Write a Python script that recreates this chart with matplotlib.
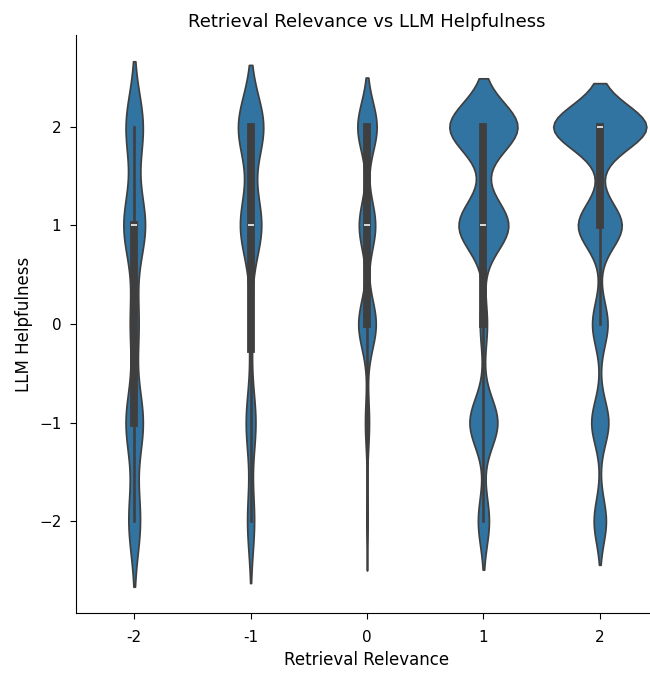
import numpy as np
import pandas as pd
import matplotlib
matplotlib.use("Agg")
import matplotlib.pyplot as plt
import seaborn as sns

# Helpfulness score levels and, for each retrieval-relevance level,
# how many responses received each helpfulness score.
helpfulness_levels = [-2, -1, 0, 1, 2]
relevance_levels = [-2, -1, 0, 1, 2]

counts_rel_m2 = [205, 305, 151, 382, 304]
counts_rel_m1 = [165, 229, 78, 504, 600]
counts_rel_0 = [26, 82, 360, 336, 396]
counts_rel_p1 = [285, 722, 185, 1287, 1761]
counts_rel_p2 = [390, 546, 494, 1398, 2972]

all_counts = [counts_rel_m2, counts_rel_m1, counts_rel_0, counts_rel_p1, counts_rel_p2]

rel_col, help_col = [], []
for rel, cnts in zip(relevance_levels, all_counts):
    rel_col.extend([rel] * int(np.sum(cnts)))
    help_col.extend(np.repeat(helpfulness_levels, cnts).tolist())

df = pd.DataFrame({"Retrieval Relevance": rel_col, "LLM Helpfulness": help_col})

plt.rcParams.update({
    "xtick.labelsize": 11,
    "ytick.labelsize": 11,
    "axes.labelsize": 12,
    "axes.titlesize": 13,
    "xtick.major.size": 4.5,
    "ytick.major.size": 4.5,
    "xtick.major.pad": 8,
    "ytick.major.pad": 6,
})

fig = plt.figure(figsize=(6.5, 6.73), dpi=100)
ax = fig.add_axes([76 / 650, (673 - 613) / 673, 582 / 650, (613 - 35) / 673])

sns.violinplot(data=df, x="Retrieval Relevance", y="LLM Helpfulness",
               density_norm="count", ax=ax)
sns.despine(ax=ax)
ax.set_title("Retrieval Relevance vs LLM Helpfulness")

fig.savefig("out.png", dpi=100)
